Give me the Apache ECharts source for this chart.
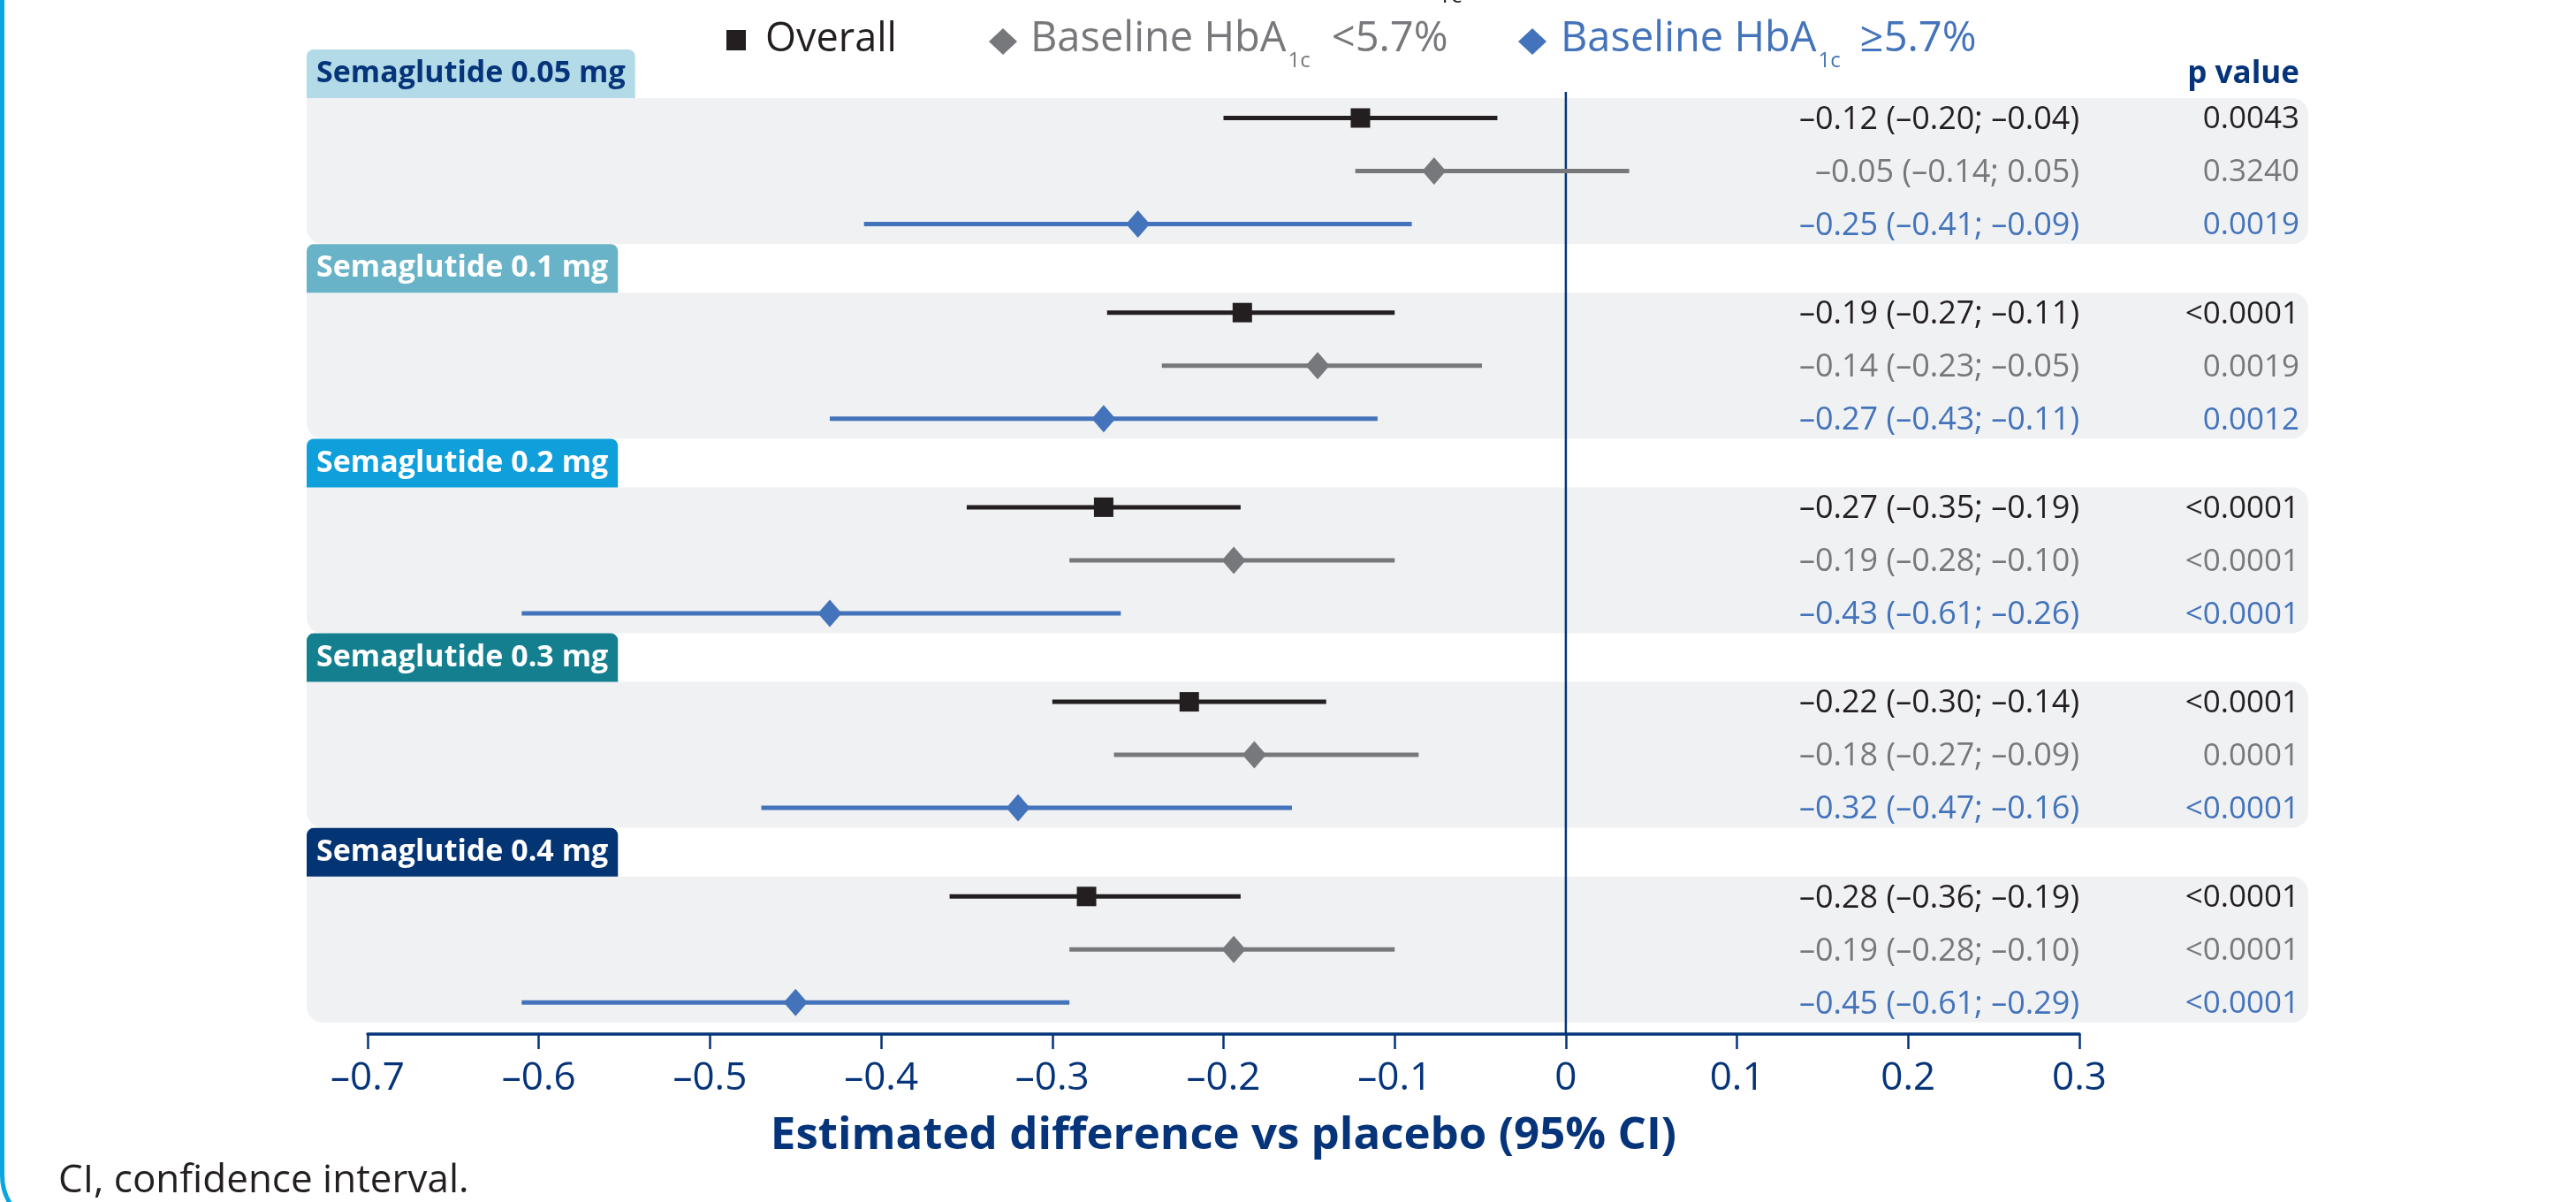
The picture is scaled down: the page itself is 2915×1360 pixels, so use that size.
<!DOCTYPE html>
<html><head><meta charset="utf-8">
<script src="https://cdn.jsdelivr.net/npm/echarts@6/dist/echarts.min.js"></script>
<style>html,body{margin:0;padding:0;background:#fff}#c{width:2915px;height:1360px}</style>
</head><body><div id="c"></div><script>
// ---------- DATA ----------
const groups = ['Semaglutide 0.05 mg', 'Semaglutide 0.1 mg', 'Semaglutide 0.2 mg', 'Semaglutide 0.3 mg', 'Semaglutide 0.4 mg'];
const subgroupNames = ['Overall', 'Baseline HbA1c <5.7%', 'Baseline HbA1c \u22655.7%'];
const xTickLabels = ['\u20130.7', '\u20130.6', '\u20130.5', '\u20130.4', '\u20130.3', '\u20130.2', '\u20130.1', '0', '0.1', '0.2', '0.3'];

// plotted positions
const overallEst = [-0.12, -0.189, -0.27, -0.22, -0.28];
const overallLo  = [-0.20, -0.268, -0.35, -0.30, -0.36];
const overallHi  = [-0.04, -0.10, -0.19, -0.14, -0.19];
const lowEst = [-0.077, -0.145, -0.194, -0.182, -0.194];
const lowLo  = [-0.123, -0.236, -0.29, -0.264, -0.29];
const lowHi  = [0.037, -0.049, -0.10, -0.086, -0.10];
const highEst = [-0.25, -0.27, -0.43, -0.32, -0.45];
const highLo  = [-0.41, -0.43, -0.61, -0.47, -0.61];
const highHi  = [-0.09, -0.11, -0.26, -0.16, -0.29];

// printed values
const overallText = ['\u20130.12 (\u20130.20; \u20130.04)', '\u20130.19 (\u20130.27; \u20130.11)', '\u20130.27 (\u20130.35; \u20130.19)', '\u20130.22 (\u20130.30; \u20130.14)', '\u20130.28 (\u20130.36; \u20130.19)'];
const lowText = ['\u20130.05 (\u20130.14; 0.05)', '\u20130.14 (\u20130.23; \u20130.05)', '\u20130.19 (\u20130.28; \u20130.10)', '\u20130.18 (\u20130.27; \u20130.09)', '\u20130.19 (\u20130.28; \u20130.10)'];
const highText = ['\u20130.25 (\u20130.41; \u20130.09)', '\u20130.27 (\u20130.43; \u20130.11)', '\u20130.43 (\u20130.61; \u20130.26)', '\u20130.32 (\u20130.47; \u20130.16)', '\u20130.45 (\u20130.61; \u20130.29)'];
const overallP = ['0.0043', '<0.0001', '<0.0001', '<0.0001', '<0.0001'];
const lowP = ['0.3240', '0.0019', '<0.0001', '0.0001', '<0.0001'];
const highP = ['0.0019', '0.0012', '<0.0001', '<0.0001', '<0.0001'];

// ---------- LAYOUT / STYLE ----------
const FONT = '"Open Sans", "Noto Sans", sans-serif';
const NAVY = '#06347a';
const COLORS = ['#231f20', '#77787b', '#4373ba'];
const TAB_BG = ['#b3dae7', '#69b3c8', '#0f9fdb', '#137f8f', '#033473'];
const TAB_FG = ['#06347a', '#ffffff', '#ffffff', '#ffffff', '#ffffff'];
const X_MIN = -0.7, X_MAX = 0.3;
const GRID_LEFT = 416, GRID_RIGHT_X = 2353, GRID_TOP = 104, AXIS_Y = 1170;
const TAB_TOP0 = 56, GROUP_H = 220.2, TAB_H = 55, PANEL_H = 165, ROW_OFF = 22.5, ROW_H = 60;
const PANEL_L = 347, PANEL_R = 2612, P_RIGHT = 2602;
function rowPix(g, r) { return TAB_TOP0 + g * GROUP_H + TAB_H + ROW_OFF + r * ROW_H; }

const sets = [
  {est: overallEst, lo: overallLo, hi: overallHi, txt: overallText, p: overallP, shape: 'square'},
  {est: lowEst, lo: lowLo, hi: lowHi, txt: lowText, p: lowP, shape: 'diamond'},
  {est: highEst, lo: highLo, hi: highHi, txt: highText, p: highP, shape: 'diamond'}
];

function makeRender(k) {
  const s = sets[k], color = COLORS[k];
  return function (params, api) {
    const i = params.dataIndex;
    const y = api.coord([0, api.value(3)])[1];
    const xe = api.coord([api.value(0), 0])[0];
    const xl = api.coord([api.value(1), 0])[0];
    const xh = api.coord([api.value(2), 0])[0];
    const xr = api.coord([X_MAX, 0])[0];
    const children = [
      {type: 'line', shape: {x1: xl, y1: y, x2: xh, y2: y}, style: {stroke: color, lineWidth: 5}},
      s.shape === 'square'
        ? {type: 'rect', shape: {x: xe - 11, y: y - 11, width: 22, height: 22}, style: {fill: color}}
        : {type: 'polygon', shape: {points: [[xe, y - 15.5], [xe + 13.5, y], [xe, y + 15.5], [xe - 13.5, y]]}, style: {fill: color}},
      {type: 'text', style: {text: s.txt[i], x: xr, y: y + 2, fill: color, fontSize: 36, fontFamily: FONT, align: 'right', verticalAlign: 'middle'}},
      {type: 'text', style: {text: s.p[i], x: P_RIGHT, y: y + 2, fill: color, fontSize: 35, fontFamily: FONT, align: 'right', verticalAlign: 'middle'}}
    ];
    return {type: 'group', children: children};
  };
}

const series = sets.map((s, k) => ({
  type: 'custom', name: subgroupNames[k], clip: false, z: 5,
  encode: {x: [0, 1, 2], y: 3},
  data: s.est.map((e, g) => [e, s.lo[g], s.hi[g], rowPix(g, k) - GRID_TOP]),
  renderItem: makeRender(k)
}));
series.unshift({
  type: 'line', name: 'zero', data: [[0, 0], [0, AXIS_Y - GRID_TOP]], symbol: 'none', silent: true, z: 3,
  lineStyle: {color: NAVY, width: 2.5}
});

const graphics = [];
// left border
graphics.push({type: 'rect', silent: true, shape: {x: 2.5, y: -100, width: 3000, height: 1490, r: 60}, style: {fill: 'none', stroke: '#0aa6df', lineWidth: 5}});
// panels & tabs
groups.forEach((name, g) => {
  const top = TAB_TOP0 + g * GROUP_H;
  graphics.push({type: 'rect', silent: true, z: -10, shape: {x: PANEL_L, y: top + TAB_H, width: PANEL_R - PANEL_L, height: PANEL_H, r: [0, 18, 18, 18]}, style: {fill: '#f0f1f3'}});
  graphics.push({type: 'text', silent: true, z: -5, x: PANEL_L, y: top, style: {
    text: name, fontSize: 34, fontWeight: 'bold', fontFamily: FONT, fill: TAB_FG[g],
    backgroundColor: TAB_BG[g], padding: [0, 11, 0, 11], lineHeight: TAB_H, borderRadius: [8, 8, 0, 0],
    verticalAlign: 'top', align: 'left'}});
});
// p value header
graphics.push({type: 'text', silent: true, style: {text: 'p value', x: P_RIGHT, y: 84, fontSize: 35, fontWeight: 'bold', fontFamily: FONT, fill: NAVY, align: 'right', verticalAlign: 'middle'}});
// clipped fragment of a line above
graphics.push({type: 'text', silent: true, style: {text: '1c', x: 1627, y: -4, fontSize: 26, fontFamily: FONT, fill: '#231f20', align: 'left', verticalAlign: 'middle'}});
// legend
graphics.push({type: 'rect', silent: true, shape: {x: 822, y: 34, width: 22, height: 23}, style: {fill: COLORS[0]}});
graphics.push({type: 'text', silent: true, style: {text: 'Overall', x: 866, y: 45, fontSize: 45, fontFamily: FONT, fill: COLORS[0], align: 'left', verticalAlign: 'middle'}});
function diamondLegend(cx, tx, k, rest, gap) {
  const c = COLORS[k];
  graphics.push({type: 'polygon', silent: true, shape: {points: [[cx, 32], [cx + 16, 47], [cx, 62], [cx - 16, 47]]}, style: {fill: c}});
  graphics.push({type: 'text', silent: true, style: {
    text: '{m|Baseline HbA}{s|1c}{m|' + rest + '}', x: tx, y: 45, align: 'left', verticalAlign: 'middle',
    rich: {
      m: {fontSize: 47, fontFamily: FONT, fill: c, color: c, lineHeight: 56},
      s: {fontSize: 24, fontFamily: FONT, fill: c, color: c, lineHeight: 24, padding: [48, gap, 0, 2]}
    }}});
}
diamondLegend(1135, 1166, 1, '<5.7%', 24);
diamondLegend(1734, 1766, 2, '\u22655.7%', 22);
// footnote
graphics.push({type: 'text', silent: true, style: {text: 'CI, confidence interval.', x: 66, y: 1336, fontSize: 44, fontFamily: FONT, fill: '#231f20', align: 'left', verticalAlign: 'middle'}});

const chart = echarts.init(document.getElementById('c'), null, {renderer: 'canvas'});
chart.setOption({
  animation: false,
  backgroundColor: '#ffffff',
  grid: {left: GRID_LEFT, right: 2915 - GRID_RIGHT_X, top: GRID_TOP, bottom: 1360 - AXIS_Y, containLabel: false},
  xAxis: {
    type: 'value', min: X_MIN, max: X_MAX, interval: 0.1,
    axisLine: {show: true, onZero: false, lineStyle: {color: NAVY, width: 3.5}},
    axisTick: {show: true, length: 17, lineStyle: {color: NAVY, width: 2.5}},
    splitLine: {show: false},
    axisLabel: {
      fontSize: 44, fontFamily: FONT, color: NAVY, margin: 28,
      formatter: function (v) { return xTickLabels[Math.round((v - X_MIN) * 10)]; }
    },
    name: 'Estimated difference vs placebo (95% CI)', nameLocation: 'middle', nameGap: 90,
    nameTextStyle: {fontSize: 51, fontWeight: 'bold', fontFamily: FONT, color: NAVY}
  },
  yAxis: {type: 'value', inverse: true, min: 0, max: AXIS_Y - GRID_TOP, show: false},
  graphic: {elements: graphics},
  series: series
});
</script></body></html>
